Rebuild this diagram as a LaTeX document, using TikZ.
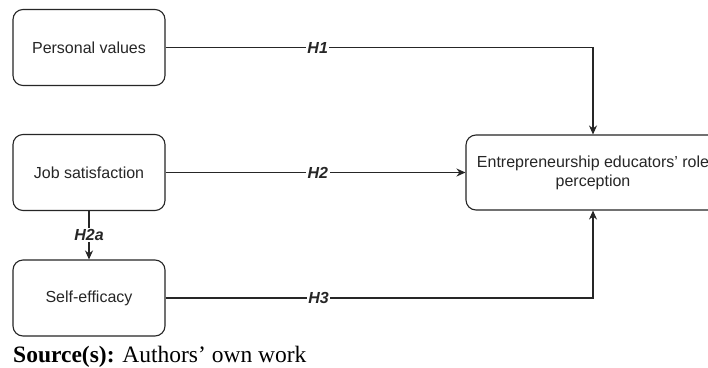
\documentclass[tikz,border=0pt]{standalone}
\usepackage{fontspec}
\setmainfont{Liberation Serif}
\newfontfamily\arialf{Liberation Sans}
\usetikzlibrary{arrows.meta}
\begin{document}
\begin{tikzpicture}[x=1pt,y=-1pt,
  box/.style={draw=black!85, line width=1.1pt, rounded corners=10pt, minimum width=152pt, minimum height=76pt, inner sep=0pt, align=center, font=\arialf\fontsize{16}{19}\selectfont, text=black!85},
  conn/.style={draw=black!85, line width=1.1pt},
  arr/.style={conn, -{Stealth[length=9pt,width=8pt]}},
  lab/.style={fill=white, inner sep=1.5pt, font=\arialf\bfseries\itshape\fontsize{16}{19}\selectfont, text=black!85}]
\useasboundingbox (0,0) rectangle (708,367);
\fill[white] (0,0) rectangle (708,367);
\node[box] (pv) at (89,47.5) {Personal values};
\node[box] (js) at (89,172.5) {Job satisfaction};
\node[box] (se) at (89,298) {Self-efficacy};
\node[box, minimum width=254pt, minimum height=75pt] (tgt) at (593,172.5) {Entrepreneurship educators’ role\\perception};
\draw[arr] (pv.east) -| node[lab, pos=0.178] (h1) {H1} (tgt.north);
\draw[arr] (js.east) -- node[lab, pos=0.508] (h2) {H2} (tgt.west);
\draw[arr] (se.east) -| node[lab, pos=0.179] (h3) {H3} (tgt.south);
\draw[arr] (js.south) -- node[lab, pos=0.49] (h2a) {H2a} (se.north);
\node[anchor=base west, inner sep=0pt, font=\fontsize{23.5}{26}\selectfont] (src) at (13,362) {\textbf{Source(s):} Authors’ own work};
\end{tikzpicture}
\end{document}
